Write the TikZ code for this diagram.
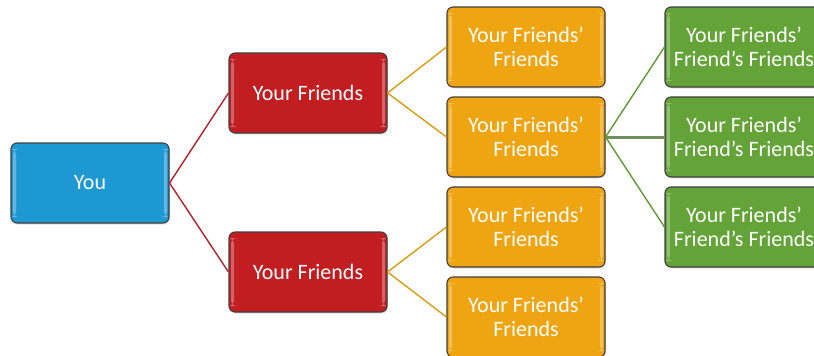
\documentclass[tikz,border=0pt]{standalone}
\usepackage{fontspec}
\setmainfont{Carlito}
\usetikzlibrary{shadows}
\definecolor{youblue}{HTML}{1E98D3}
\definecolor{friendred}{HTML}{C21E22}
\definecolor{fofyellow}{HTML}{EEA511}
\definecolor{fofgreen}{HTML}{63A338}
\definecolor{boxedge}{HTML}{3F3F3F}
\definecolor{linkred}{HTML}{B3212A}
\definecolor{linkyellow}{HTML}{D99C12}
\definecolor{linkgreen}{HTML}{5E9B34}
\definecolor{linkgray}{HTML}{6F8F5F}
\begin{document}
\begin{tikzpicture}[x=1pt,y=-1pt,
  card/.style={draw=boxedge, line width=1.1pt, rounded corners=6pt,
    minimum width=158pt, minimum height=80pt, inner sep=0pt,
    align=center, text=white, font=\fontsize{22}{24.5}\selectfont,
    drop shadow={opacity=0.25, shadow xshift=1pt, shadow yshift=-1.5pt},
    path picture={
      \fill[white,opacity=0.3]
        ([xshift=2pt,yshift=-6pt]path picture bounding box.north west)
        rectangle ([xshift=5pt,yshift=6pt]path picture bounding box.south west);
      \fill[white,opacity=0.3]
        ([xshift=-2pt,yshift=-6pt]path picture bounding box.north east)
        rectangle ([xshift=-5pt,yshift=6pt]path picture bounding box.south east);
    }},
  you/.style={card, fill=youblue},
  friend/.style={card, fill=friendred},
  fof/.style={card, fill=fofyellow},
  fofof/.style={card, fill=fofgreen},
  link/.style={line width=1.4pt}]
\useasboundingbox (0,0) rectangle (814,356);

% tree nodes
\node[you]    (you) at (90,183) {You};
\node[friend] (f1)  at (308,93)  {Your Friends};
\node[friend] (f2)  at (308,272) {Your Friends};
\node[fof]    (g1)  at (526,47)  {Your Friends’\\Friends};
\node[fof]    (g2)  at (526,137) {Your Friends’\\Friends};
\node[fof]    (g3)  at (526,227) {Your Friends’\\Friends};
\node[fof]    (g4)  at (526,317) {Your Friends’\\Friends};
\node[fofof]  (h1)  at (744,47)  {Your Friends’\\Friend’s Friends};
\node[fofof]  (h2)  at (744,137) {Your Friends’\\Friend’s Friends};
\node[fofof]  (h3)  at (744,227) {Your Friends’\\Friend’s Friends};

% connectors
\draw[link, linkred] (you.east) -- (f1.west);
\draw[link, linkred] (you.east) -- (f2.west);
\draw[link, linkyellow] (f1.east) -- (g1.west);
\draw[link, linkyellow] (f1.east) -- (g2.west);
\draw[link, linkyellow] (f2.east) -- (g3.west);
\draw[link, linkyellow] (f2.east) -- (g4.west);
\draw[link, linkgreen] (g2.east) -- (h1.west);
\draw[line width=3pt, linkgray] (g2.east) -- (h2.west);
\draw[link, linkgreen] (g2.east) -- (h3.west);
\end{tikzpicture}
\end{document}
